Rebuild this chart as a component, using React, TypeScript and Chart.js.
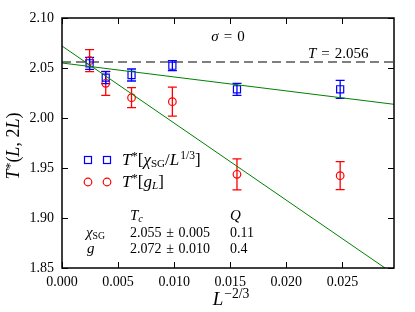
import React, { useEffect, useRef } from "react";
import { Chart, registerables } from "chart.js";

Chart.register(...registerables);

const xVals = [0.00246, 0.0039, 0.0062, 0.00984, 0.0156, 0.0248];
const chiVals = [2.0547, 2.0403, 2.043, 2.0523, 2.0287, 2.0287];
const chiErr = [0.006, 0.006, 0.006, 0.005, 0.006, 0.009];
const gVals = [2.0573, 2.0347, 2.0203, 2.0163, 1.9437, 1.9423];
const gErr = [0.011, 0.012, 0.01, 0.0145, 0.0155, 0.014];

const chiFitX = [0, 0.0296];
const chiFitY = [2.055, 2.0137];
const gFitX = [0, 0.0288];
const gFitY = [2.072, 1.85];
const refT = 2.056;

const xTickStep = 0.005;
const yTickStep = 0.05;
const xMin = 0;
const xMax = 0.0296;
const yMin = 1.85;
const yMax = 2.1;

const FAMILY = '"Liberation Serif", "DejaVu Serif", serif';
const TICK = 14;

type Seg = { t: string; i?: boolean; s?: number; dy?: number; gap?: number };

function segFont(seg: Seg, base: number) {
  const size = base * (seg.s ?? 1);
  return `${seg.i ? "italic " : ""}${size}px ${FAMILY}`;
}

function richWidth(ctx: CanvasRenderingContext2D, segs: Seg[], base: number) {
  let w = 0;
  for (const s of segs) {
    ctx.font = segFont(s, base);
    w += ctx.measureText(s.t).width + (s.gap ?? 0);
  }
  return w;
}

function drawRich(
  ctx: CanvasRenderingContext2D,
  x: number,
  y: number,
  segs: Seg[],
  base: number,
  align: "left" | "center" = "left"
) {
  ctx.save();
  ctx.fillStyle = "#000";
  ctx.textBaseline = "alphabetic";
  ctx.textAlign = "left";
  let cx = x;
  if (align === "center") cx = x - richWidth(ctx, segs, base) / 2;
  for (const s of segs) {
    ctx.font = segFont(s, base);
    ctx.fillText(s.t, cx, y + (s.dy ?? 0));
    cx += ctx.measureText(s.t).width + (s.gap ?? 0);
  }
  ctx.restore();
}

const SP = "\u2004";

const overlay = {
  id: "overlay",
  beforeDatasetsDraw(chart: any) {
    const { ctx, chartArea: a, scales } = chart;
    const xs = scales.x;
    const ys = scales.y;
    ctx.save();
    ctx.beginPath();
    ctx.rect(a.left, a.top, a.right - a.left, a.bottom - a.top);
    ctx.clip();
    ctx.strokeStyle = "#555";
    ctx.lineWidth = 1.5;
    ctx.setLineDash([9, 5]);
    const yy = ys.getPixelForValue(refT);
    ctx.beginPath();
    ctx.moveTo(xs.getPixelForValue(xMin), yy);
    ctx.lineTo(xs.getPixelForValue(xMax), yy);
    ctx.stroke();
    ctx.setLineDash([]);
    const bars = [
      { v: gVals, e: gErr, c: "#ff0000" },
      { v: chiVals, e: chiErr, c: "#0000ff" },
    ];
    for (const b of bars) {
      ctx.strokeStyle = b.c;
      ctx.lineWidth = 1.3;
      xVals.forEach((xv, i) => {
        const px = xs.getPixelForValue(xv);
        const y1 = ys.getPixelForValue(b.v[i] - b.e[i]);
        const y2 = ys.getPixelForValue(b.v[i] + b.e[i]);
        ctx.beginPath();
        ctx.moveTo(px, y1);
        ctx.lineTo(px, y2);
        ctx.moveTo(px - 4.5, y1);
        ctx.lineTo(px + 4.5, y1);
        ctx.moveTo(px - 4.5, y2);
        ctx.lineTo(px + 4.5, y2);
        ctx.stroke();
      });
    }
    ctx.restore();
  },
  afterDraw(chart: any) {
    const { ctx, chartArea: a, scales } = chart;
    const xs = scales.x;
    const ys = scales.y;
    ctx.save();
    ctx.strokeStyle = "#000";
    ctx.lineWidth = 1.5;
    ctx.strokeRect(a.left, a.top, a.right - a.left, a.bottom - a.top);
    ctx.lineWidth = 1;
    const tl = 6;
    ctx.beginPath();
    for (const t of xs.ticks) {
      const px = Math.round(xs.getPixelForValue(t.value)) + 0.5;
      ctx.moveTo(px, a.bottom);
      ctx.lineTo(px, a.bottom - tl);
      ctx.moveTo(px, a.top);
      ctx.lineTo(px, a.top + tl);
    }
    for (const t of ys.ticks) {
      const py = Math.round(ys.getPixelForValue(t.value)) + 0.5;
      ctx.moveTo(a.left, py);
      ctx.lineTo(a.left + tl, py);
      ctx.moveTo(a.right, py);
      ctx.lineTo(a.right - tl, py);
    }
    ctx.stroke();
    ctx.restore();

    // annotations
    drawRich(ctx, 228, 41, [{ t: "σ", i: true }, { t: SP + "=" + SP + "0" }], 15, "center");
    drawRich(ctx, 308, 58, [{ t: "T", i: true }, { t: SP + "=" + SP + "2.056" }], 15);

    // legend
    ctx.save();
    ctx.lineWidth = 1.2;
    ctx.strokeStyle = "#0000ff";
    for (const lx of [88, 107]) {
      ctx.strokeRect(lx - 3.5, 160 - 3.5, 7, 7);
    }
    ctx.strokeStyle = "#ff0000";
    for (const lx of [88, 107]) {
      ctx.beginPath();
      ctx.arc(lx, 182, 3.8, 0, Math.PI * 2);
      ctx.stroke();
    }
    ctx.restore();
    drawRich(
      ctx,
      122,
      165,
      [
        { t: "T", i: true },
        { t: "*", s: 0.75, dy: -5 },
        { t: "[" },
        { t: "χ", i: true },
        { t: "SG", s: 0.65, dy: 2 },
        { t: "/" },
        { t: "L", i: true, gap: 1 },
        { t: "1/3", s: 0.68, dy: -6 },
        { t: "]" },
      ],
      17
    );
    drawRich(
      ctx,
      122,
      187,
      [
        { t: "T", i: true },
        { t: "*", s: 0.75, dy: -5 },
        { t: "[" },
        { t: "g", i: true },
        { t: "L", i: true, s: 0.65, dy: 2 },
        { t: "]" },
      ],
      17
    );

    // fit table
    drawRich(ctx, 130, 220, [{ t: "T", i: true }, { t: "c", i: true, s: 0.7, dy: 2 }], 15);
    drawRich(ctx, 230, 220, [{ t: "Q", i: true }], 15);
    drawRich(ctx, 86, 237, [{ t: "χ", i: true }, { t: "SG", s: 0.65, dy: 2 }], 15);
    drawRich(ctx, 130, 237, [{ t: "2.055" + SP + "±" + SP + "0.005" }], 14);
    drawRich(ctx, 230, 237, [{ t: "0.11" }], 14);
    drawRich(ctx, 87, 253, [{ t: "g", i: true }], 15);
    drawRich(ctx, 130, 253, [{ t: "2.072" + SP + "±" + SP + "0.010" }], 14);
    drawRich(ctx, 230, 253, [{ t: "0.4" }], 14);

    // axis titles
    drawRich(ctx, 231, 305, [{ t: "L", i: true, gap: 1 }, { t: "−2/3", s: 0.72, dy: -7 }], 19, "center");
    ctx.save();
    ctx.translate(19, 146);
    ctx.rotate(-Math.PI / 2);
    drawRich(
      ctx,
      0,
      0,
      [
        { t: "T", i: true },
        { t: "*", s: 0.75, dy: -5 },
        { t: "(" },
        { t: "L", i: true },
        { t: ", 2" },
        { t: "L", i: true },
        { t: ")" },
      ],
      18,
      "center"
    );
    ctx.restore();
  },
};

export default function App() {
  const ref = useRef<HTMLCanvasElement | null>(null);
  useEffect(() => {
    if (!ref.current) return;
    const chart = new Chart(ref.current, {
      type: "scatter",
      data: {
        datasets: [
          {
            label: "chiFit",
            type: "line",
            data: chiFitX.map((x, i) => ({ x, y: chiFitY[i] })),
            borderColor: "#008000",
            borderWidth: 1,
            pointRadius: 0,
            fill: false,
          } as any,
          {
            label: "gFit",
            type: "line",
            data: gFitX.map((x, i) => ({ x, y: gFitY[i] })),
            borderColor: "#008000",
            borderWidth: 1,
            pointRadius: 0,
            fill: false,
          } as any,
          {
            label: "chi",
            data: xVals.map((x, i) => ({ x, y: chiVals[i] })),
            pointStyle: "rect",
            pointRadius: 5,
            borderColor: "#0000ff",
            backgroundColor: "rgba(0,0,0,0)",
            borderWidth: 1.2,
          },
          {
            label: "g",
            data: xVals.map((x, i) => ({ x, y: gVals[i] })),
            pointStyle: "circle",
            pointRadius: 3.8,
            borderColor: "#ff0000",
            backgroundColor: "rgba(0,0,0,0)",
            borderWidth: 1.2,
          },
        ],
      },
      options: {
        animation: false,
        responsive: false,
        maintainAspectRatio: false,
        layout: { padding: { top: 18, right: 21, left: 0, bottom: 0 } },
        plugins: { legend: { display: false }, tooltip: { enabled: false } },
        scales: {
          x: {
            type: "linear",
            min: xMin,
            max: xMax,
            grid: { display: false, drawTicks: false },
            border: { display: false },
            ticks: {
              stepSize: xTickStep,
              includeBounds: false,
              padding: 6,
              color: "#000",
              font: { family: FAMILY, size: TICK },
              callback: (v: any) => Number(v).toFixed(3),
              maxRotation: 0,
            },
            afterFit: (s: any) => {
              s.height = 44;
            },
          },
          y: {
            type: "linear",
            min: yMin,
            max: yMax,
            grid: { display: false, drawTicks: false },
            border: { display: false },
            ticks: {
              stepSize: yTickStep,
              includeBounds: false,
              padding: 8,
              color: "#000",
              font: { family: FAMILY, size: TICK },
              callback: (v: any) => Number(v).toFixed(2),
            },
            afterFit: (s: any) => {
              s.width = 62;
            },
          },
        },
      },
      plugins: [overlay],
    });
    return () => chart.destroy();
  }, []);
  return (
    <div style={{ position: "absolute", left: 0, top: 0, width: 415, height: 312, background: "#fff" }}>
      <canvas ref={ref} width={415} height={312} style={{ width: 415, height: 312 }} />
    </div>
  );
}
